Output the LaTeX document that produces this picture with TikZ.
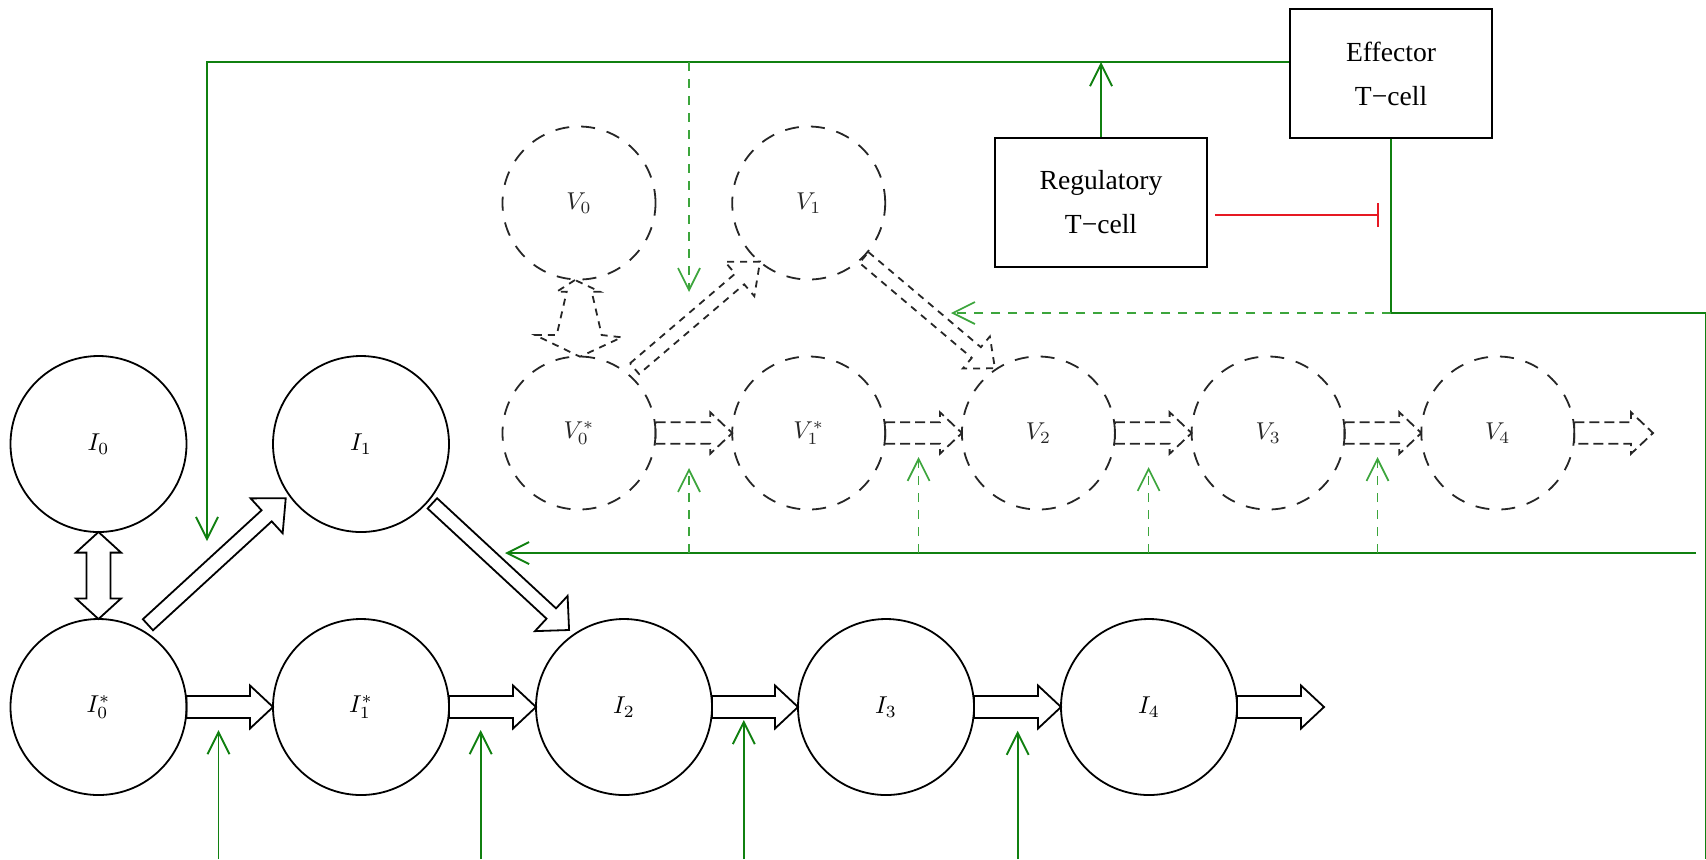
\documentclass[tikz,border=0pt]{standalone}
\usepackage{fontspec}
\newfontfamily\cellfont{Liberation Serif}
\usetikzlibrary{calc,arrows.meta}

\definecolor{fbgreen}{RGB}{16,128,16}
\definecolor{fbgreenl}{RGB}{60,165,60}
\definecolor{inhred}{RGB}{230,25,35}

% compartment label, enlarged
\newcommand{\cmp}[1]{\scalebox{1.22}{$#1$}}

\tikzset{
  icell/.style={circle, draw, line width=0.9pt, minimum size=88pt, inner sep=0pt,
    outer sep=0pt, font=\fontsize{10}{12}\selectfont},
  vcell/.style={icell, minimum size=76.5pt, draw=black!85, text=black!85,
    dash pattern=on 7pt off 6pt},
  tbox/.style={draw, line width=0.9pt, minimum height=64.5pt, align=center,
    inner sep=0pt, font=\cellfont\fontsize{13.8}{22}\selectfont},
  fatline/.style={draw, line width=0.9pt, line join=miter},
  % hollow block arrow from start to target: shaft half width, head half width, head length
  fat/.style n args={3}{fatline, to path={
    let \p1=(\tikztostart), \p2=(\tikztotarget),
        \n1={atan2(\y2-\y1,\x2-\x1)}, \n2={veclen(\x2-\x1,\y2-\y1)} in
    ($(\p1)+({\n1+90}:#1)$) -- ($(\p1)+(\n1:{\n2-#3})+({\n1+90}:#1)$)
    -- ($(\p1)+(\n1:{\n2-#3})+({\n1+90}:#2)$) -- (\p2)
    -- ($(\p1)+(\n1:{\n2-#3})+({\n1-90}:#2)$) -- ($(\p1)+(\n1:{\n2-#3})+({\n1-90}:#1)$)
    -- ($(\p1)+({\n1-90}:#1)$) -- cycle}},
  % hollow block arrow with a head at both ends
  dbl/.style n args={3}{fatline, to path={
    let \p1=(\tikztostart), \p2=(\tikztotarget),
        \n1={atan2(\y2-\y1,\x2-\x1)}, \n2={veclen(\x2-\x1,\y2-\y1)} in
    (\p1) -- ($(\p1)+(\n1:#3)+({\n1+90}:#2)$) -- ($(\p1)+(\n1:#3)+({\n1+90}:#1)$)
    -- ($(\p1)+(\n1:{\n2-#3})+({\n1+90}:#1)$) -- ($(\p1)+(\n1:{\n2-#3})+({\n1+90}:#2)$)
    -- (\p2) -- ($(\p1)+(\n1:{\n2-#3})+({\n1-90}:#2)$) -- ($(\p1)+(\n1:{\n2-#3})+({\n1-90}:#1)$)
    -- ($(\p1)+(\n1:#3)+({\n1-90}:#1)$) -- ($(\p1)+(\n1:#3)+({\n1-90}:#2)$) -- cycle}},
  vfat/.style={draw=black!85, dash pattern=on 5pt off 2.5pt},
  vdiag/.style={draw=black!85, dash pattern=on 3.5pt off 3pt},
  gar/.style={-{Straight Barb[length=11pt,width=11pt]}},
  gline/.style={draw=fbgreen, line width=0.95pt},
  gdash/.style={draw=fbgreenl, line width=0.85pt, dash pattern=on 4.5pt off 4pt},
  rline/.style={draw=inhred, line width=0.9pt, -{Bar[width=12pt]}},
}

\begin{document}
\begin{tikzpicture}[x=0.5pt,y=-0.5pt]
\useasboundingbox (0,0) rectangle (1706,859);

% infected cell compartments
\node[icell] (I0)  at (98.5,444) {\cmp{I_0}};
\node[icell] (I1)  at (361,444)  {\cmp{I_1}};
\node[icell] (I0s) at (98.5,707) {\cmp{I_0^*}};
\node[icell] (I1s) at (361,707)  {\cmp{I_1^*}};
\node[icell] (I2)  at (624,707)  {\cmp{I_2}};
\node[icell] (I3)  at (886,707)  {\cmp{I_3}};
\node[icell] (I4)  at (1149,707) {\cmp{I_4}};
\coordinate (Iend) at (1324,707);

% virus compartments
\node[vcell] (V0)  at (579,203)    {\cmp{V_0}};
\node[vcell] (V1)  at (808.7,203)  {\cmp{V_1}};
\node[vcell] (V0s) at (579,433)    {\cmp{V_0^*}};
\node[vcell] (V1s) at (808.7,433)  {\cmp{V_1^*}};
\node[vcell] (V2)  at (1038.4,433) {\cmp{V_2}};
\node[vcell] (V3)  at (1268.1,433) {\cmp{V_3}};
\node[vcell] (V4)  at (1497.8,433) {\cmp{V_4}};
\coordinate (Vend) at (1653,433);

% T cells
\node[tbox, minimum width=101pt] (eff) at (1391,73.5)  {Effector\\T−cell};
\node[tbox, minimum width=106pt] (reg) at (1101,202.5) {Regulatory\\T−cell};

% transitions between infected cells
\draw[fat={5.5pt}{10.75pt}{11.5pt}] (I0s.east) to (I1s.west);
\draw[fat={5.5pt}{10.75pt}{11.5pt}] (I1s.east) to (I2.west);
\draw[fat={5.5pt}{10.75pt}{11.5pt}] (I2.east) to (I3.west);
\draw[fat={5.5pt}{10.75pt}{11.5pt}] (I3.east) to (I4.west);
\draw[fat={5.5pt}{10.75pt}{11.5pt}] (I4.east) to (Iend);
\draw[dbl={6pt}{11.3pt}{10.3pt}] (I0.south) to (I0s.north);
\draw[fat={3.75pt}{11.85pt}{12.9pt}] ($(I0s)+(59:48pt)$) to ($(I1)+(215.8:46.4pt)$);
\draw[fat={3.5pt}{12pt}{12pt}] ($(I1)+(-39.75:46.4pt)$) to ($(I2)+(125.5:47.3pt)$);

% transitions between virus compartments
\draw[fat={5.4pt}{10.4pt}{11pt}, vfat] (V0s.east) to (V1s.west);
\draw[fat={5.4pt}{10.4pt}{11pt}, vfat] (V1s.east) to (V2.west);
\draw[fat={5.4pt}{10.4pt}{11pt}, vfat] (V2.east) to (V3.west);
\draw[fat={5.4pt}{10.4pt}{11pt}, vfat] (V3.east) to (V4.west);
\draw[fat={5.4pt}{10.4pt}{11pt}, vfat] (V4.east) to (Vend);
\draw[fat={3.5pt}{11.3pt}{13.3pt}, vdiag] ($(V0s)+(49.2:42.5pt)$) to ($(V1)+(230.3:38.1pt)$);
\draw[fat={3.5pt}{10.5pt}{12pt}, vdiag] ($(V1)+(-44.6:38.8pt)$) to ($(V2)+(123.9:39pt)$);
\draw[fatline, vdiag] (575,280) -- (556.7,291.7) -- (566.7,291.7) -- (556.7,335)
  -- (535,335) -- (580,356.7) -- (621.7,337.3) -- (601.7,335) -- (591.7,291.7)
  -- (600,291.7) -- cycle;

% immune feedback
\coordinate (ytop) at (0,62);
\coordinate (yv) at (0,313);
\coordinate (yred) at (0,215);
\coordinate (feedI) at (207,541);
\coordinate (vfeedtop) at (689,62);
\coordinate (vfeed) at (689,292);
\coordinate (rtop) at (1705.5,313);
\coordinate (rbot) at (1705.5,859);
\coordinate (kstart) at (1696,553);
\coordinate (killI) at (505,553);
\coordinate (killV) at (951,313);

\draw[gline, gar] (eff.west |- ytop) -| (feedI);
\draw[gline, gar] (reg.north) -- (reg.north |- ytop);
\draw[gdash, gar] (vfeedtop) -- (vfeed);
\draw[gline] (eff.south) -- (eff.south |- yv) -- (rtop) -- (rbot);
\draw[gline, gar] (kstart) -- (killI);
\draw[gdash, gar] (eff.south |- yv) -- (killV);
\draw[rline] ([xshift=3.5pt]reg.east |- yred) -- ([xshift=-6pt]eff.south |- yred);

\foreach \x/\y in {689/468, 918.6/457, 1148.6/467, 1377.5/457}
  \draw[gdash, gar] (\x,553) -- (\x,\y);
\foreach \x/\y in {218.5/730, 480.7/730, 743.8/720, 1017.7/730.7}
  \draw[gline, gar] (\x,859) -- (\x,\y);
\end{tikzpicture}
\end{document}
